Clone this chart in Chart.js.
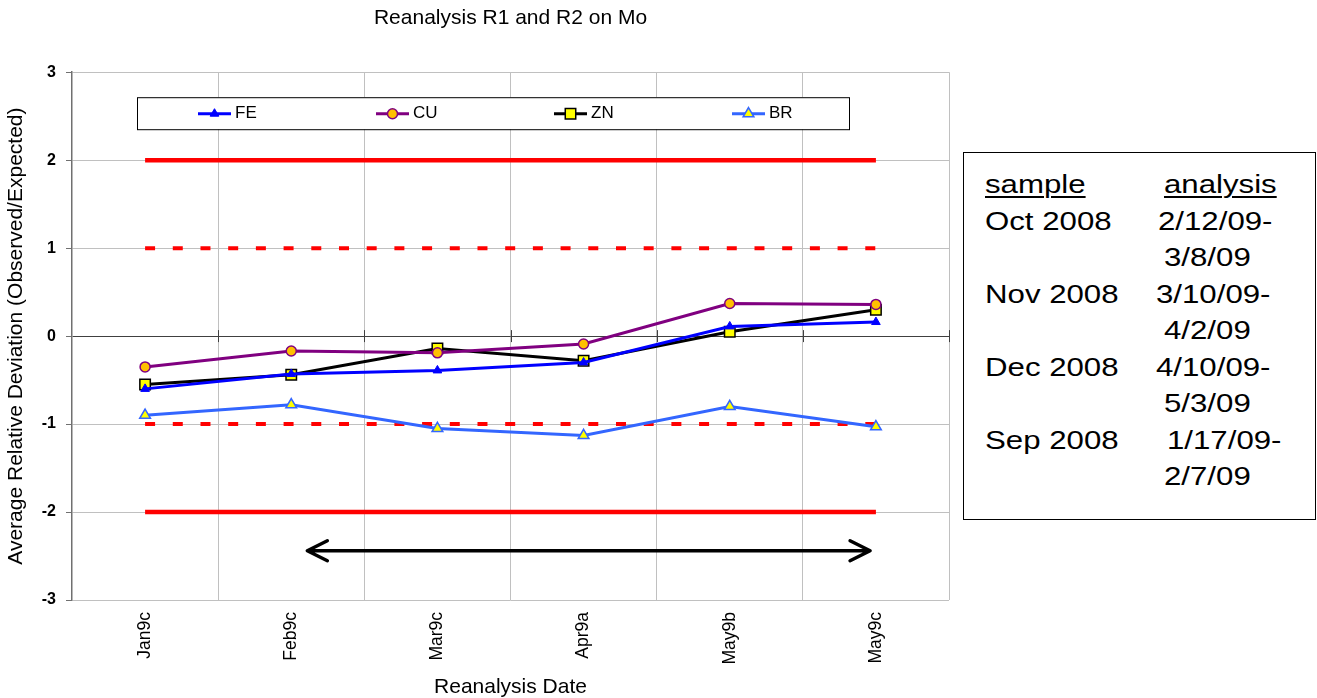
<!DOCTYPE html>
<html>
<head>
<meta charset="utf-8">
<title>Reanalysis R1 and R2 on Mo</title>
<script src="https://cdn.jsdelivr.net/npm/chart.js@4.4.1/dist/chart.umd.min.js"></script>
<style>
  html, body { margin: 0; padding: 0; background: #fff; }
  body { width: 1317px; height: 698px; position: relative; overflow: hidden; font-family: "Liberation Sans", Arial, sans-serif; }
  #wrap { position: absolute; left: 0; top: 0; width: 960px; height: 698px; }
  #note { position: absolute; left: 963px; top: 152px; width: 351px; height: 366px; border: 1.5px solid #000; }
  .col { position: absolute; top: 13px; font-size: 26px; line-height: 36.5px; color: #000;
         transform: scaleX(1.2); transform-origin: left top; white-space: pre; }
  .col span { display: block; }
  .col u { text-decoration-thickness: 2px; text-underline-offset: 3px; }
</style>
</head>
<body>
<div id="wrap"><canvas id="chart"></canvas></div>
<div id="note">
  <div class="col" id="sampleCol" style="left:21px"></div>
  <div class="col" id="analysisCol" style="left:192px"></div>
</div>
<script>
const labels = ['Jan9c', 'Feb9c', 'Mar9c', 'Apr9a', 'May9b', 'May9c'];
const fe = [-0.60, -0.43, -0.39, -0.30, 0.11, 0.16];
const cu = [-0.35, -0.17, -0.19, -0.09, 0.37, 0.36];
const zn = [-0.55, -0.44, -0.14, -0.28, 0.05, 0.30];
const br = [-0.90, -0.78, -1.05, -1.13, -0.80, -1.03];

// control limits
const limit2Hi = [2, 2, 2, 2, 2, 2];
const limit2Lo = [-2, -2, -2, -2, -2, -2];
const limit1Hi = [1, 1, 1, 1, 1, 1];
const limit1Lo = [-1, -1, -1, -1, -1, -1];

const yTicks = [-3, -2, -1, 0, 1, 2, 3];

// double arrow under the reanalysed range (category index / y value)
const arrowFrom = 1.11;
const arrowTo = 4.96;
const arrowAt = -2.44;

const sampleCol = ['sample', 'Oct 2008', '', 'Nov 2008', '', 'Dec 2008', '', 'Sep 2008', ''];
const analysisCol = ['analysis', '2/12/09-', '3/8/09', '3/10/09-', '4/2/09', '4/10/09-', '5/3/09', '1/17/09-', '2/7/09'];
const analysisIndent = [8, 2, 8, 0, 8, 0, 8, 11, 8]; // px, as in the original box

function fillCol(id, rows, indent) {
  const el = document.getElementById(id);
  el.innerHTML = rows.map((r, i) => {
    const txt = i === 0 ? '<u>' + r + '</u>' : (r || ' ');
    const pad = indent ? indent[i] / 1.2 : 0;
    return '<span style="margin-left:' + pad + 'px">' + txt + '</span>';
  }).join('');
}
fillCol('sampleCol', sampleCol);
fillCol('analysisCol', analysisCol, analysisIndent);

const FONT = '"Liberation Sans", Arial, sans-serif';
Chart.defaults.font.family = FONT;
Chart.defaults.color = '#000';

function marker(ctx, style, r, x, y) {
  ctx.beginPath();
  if (style === 'circle') {
    ctx.arc(x, y, r, 0, Math.PI * 2);
  } else if (style === 'rect') {
    const s = r * Math.SQRT1_2;
    ctx.rect(x - s, y - s, 2 * s, 2 * s);
  } else {
    const h = r * 1.5, w = r * Math.sqrt(3) / 2;
    ctx.moveTo(x, y - r);
    ctx.lineTo(x + w, y + h - r);
    ctx.lineTo(x - w, y + h - r);
    ctx.closePath();
  }
  ctx.fill();
  ctx.stroke();
}

const boxLegend = {
  id: 'boxLegend',
  afterDatasetsDraw(chart) {
    const { ctx, chartArea: a } = chart;
    const left = a.left + 65, top = a.top + 25, w = 712, h = 32;
    ctx.save();
    ctx.fillStyle = '#fff';
    ctx.fillRect(left, top, w, h);
    ctx.strokeStyle = '#000';
    ctx.lineWidth = 1;
    ctx.strokeRect(left + 0.5, top + 0.5, w, h);
    const cy = top + h / 2 + 0.5;
    chart.data.datasets.filter(d => d.inLegend).forEach((d, i) => {
      const x = left + 61 + i * 178;
      ctx.strokeStyle = d.borderColor;
      ctx.lineWidth = d.borderWidth;
      ctx.beginPath();
      ctx.moveTo(x, cy);
      ctx.lineTo(x + 33, cy);
      ctx.stroke();
      ctx.fillStyle = d.pointBackgroundColor;
      ctx.strokeStyle = d.pointBorderColor;
      ctx.lineWidth = d.pointBorderWidth;
      marker(ctx, d.pointStyle, d.pointRadius, x + 16.5, cy);
      ctx.fillStyle = '#000';
      ctx.font = '17px ' + FONT;
      ctx.textBaseline = 'middle';
      ctx.fillText(d.label, x + 37, cy);
    });
    ctx.restore();
  }
};

const zeroTicks = {
  id: 'zeroTicks',
  beforeDatasetsDraw(chart) {
    const { ctx, scales: { x, y } } = chart;
    const y0 = y.getPixelForValue(0);
    ctx.save();
    ctx.strokeStyle = '#404040';
    ctx.lineWidth = 1;
    ctx.beginPath();
    for (let i = 1; i <= labels.length; i++) {
      const px = Math.round(x.getPixelForValue(i - 0.5)) + 0.5;
      ctx.moveTo(px, y0 - 6);
      ctx.lineTo(px, y0 + 6);
    }
    ctx.stroke();
    ctx.restore();
  }
};

const rangeArrow = {
  id: 'rangeArrow',
  afterDatasetsDraw(chart) {
    const { ctx, scales: { x, y } } = chart;
    const x1 = x.getPixelForValue(arrowFrom);
    const x2 = x.getPixelForValue(arrowTo);
    const py = y.getPixelForValue(arrowAt);
    ctx.save();
    ctx.strokeStyle = '#000';
    ctx.lineWidth = 3.5;
    ctx.lineCap = 'round';
    ctx.lineJoin = 'round';
    ctx.beginPath();
    ctx.moveTo(x1, py);
    ctx.lineTo(x2, py);
    ctx.moveTo(x1 + 20, py - 10);
    ctx.lineTo(x1, py);
    ctx.lineTo(x1 + 20, py + 10);
    ctx.moveTo(x2 - 20, py - 10);
    ctx.lineTo(x2, py);
    ctx.lineTo(x2 - 20, py + 10);
    ctx.stroke();
    ctx.restore();
  }
};

function series(label, data, color, style, radius, fill, edge, edgeWidth) {
  return {
    label, data, inLegend: true,
    borderColor: color, borderWidth: 3,
    pointStyle: style, pointRadius: radius, pointHoverRadius: radius,
    pointBackgroundColor: fill, pointBorderColor: edge, pointBorderWidth: edgeWidth,
    tension: 0
  };
}

function limit(data, dash, width) {
  return {
    label: '', data, inLegend: false,
    borderColor: '#ff0000', borderWidth: width, borderDash: dash,
    pointRadius: 0, pointHoverRadius: 0, tension: 0
  };
}

new Chart(document.getElementById('chart'), {
  type: 'line',
  data: {
    labels,
    datasets: [
      series('FE', fe, '#0000ff', 'triangle', 5, '#0000ff', '#0000ff', 1),
      series('CU', cu, '#800080', 'circle', 5, '#ffc000', '#800080', 1.5),
      series('ZN', zn, '#000000', 'rect', 7.4, '#ffff00', '#000000', 1.5),
      series('BR', br, '#3366ff', 'triangle', 6.2, '#ffff00', '#3366ff', 1.5),
      limit(limit2Hi, [], 4.5),
      limit(limit2Lo, [], 4.5),
      limit(limit1Hi, [10, 17.7], 4),
      limit(limit1Lo, [10, 17.7], 4)
    ]
  },
  options: {
    responsive: true,
    maintainAspectRatio: false,
    animation: false,
    layout: { padding: { left: 0, right: 11, top: 0, bottom: 0 } },
    plugins: {
      legend: { display: false },
      tooltip: { enabled: false },
      title: {
        display: true,
        text: 'Reanalysis R1 and R2 on Mo',
        fullSize: false,
        color: '#000',
        font: { size: 21, weight: 'normal', lineHeight: 1.2 },
        padding: { top: 6, bottom: 41 }
      }
    },
    scales: {
      x: {
        offset: true,
        grid: { offset: true, color: '#c0c0c0', drawTicks: false },
        border: { display: false },
        ticks: { minRotation: 90, maxRotation: 90, padding: 12, autoSkip: false, color: '#000', font: { size: 17.5 } },
        title: { display: true, text: 'Reanalysis Date', color: '#000', font: { size: 21, lineHeight: 1 }, padding: 0 },
        afterFit: s => { s.height = 98; }
      },
      y: {
        min: -3,
        max: 3,
        afterBuildTicks: s => { s.ticks = yTicks.map(v => ({ value: v })); },
        grid: {
          color: c => (c.tick && c.tick.value === 0 ? '#404040' : '#c0c0c0'),
          tickColor: '#707070',
          tickLength: 6
        },
        border: { color: '#707070', width: 1.5 },
        ticks: { padding: 10, color: '#000', font: { size: 16, weight: 'bold' } },
        title: {
          display: true,
          text: 'Average Relative Deviation (Observed/Expected)',
          color: '#000',
          font: { size: 21 },
          padding: { top: 4, bottom: 0 }
        },
        afterFit: s => { s.width = 72; }
      }
    }
  },
  plugins: [zeroTicks, rangeArrow, boxLegend]
});
</script>
</body>
</html>
